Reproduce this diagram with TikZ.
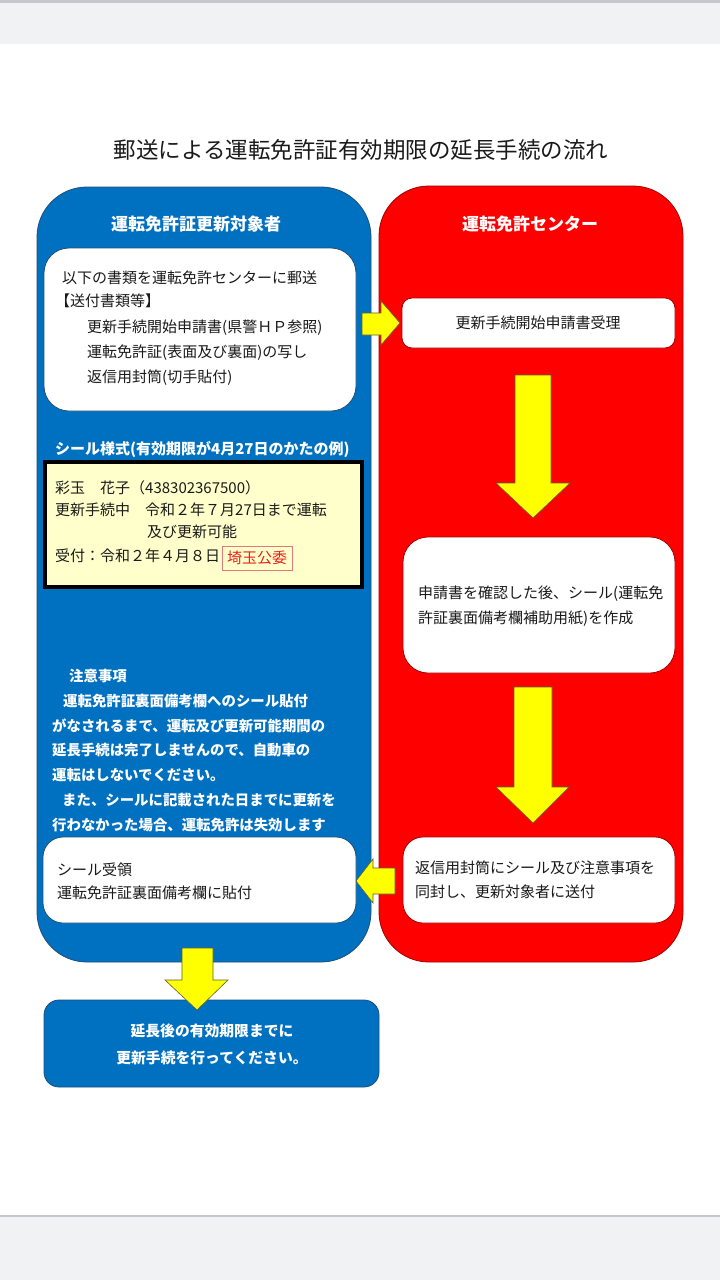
\documentclass[tikz,border=0pt]{standalone}
\usepackage{fontspec}
\newfontfamily\jp{Noto Sans CJK JP}
\definecolor{pbl}{HTML}{0070C0}
\definecolor{pblb}{HTML}{1F4E79}
\definecolor{prd}{HTML}{FF0000}
\definecolor{prdb}{HTML}{A00000}
\definecolor{ylw}{HTML}{FFFF00}
\definecolor{ylwb}{HTML}{5E5E30}
\definecolor{stk}{HTML}{FFFFCC}
\definecolor{stampc}{HTML}{E8201E}
\definecolor{stampb}{HTML}{E07A7A}
\definecolor{bandg}{HTML}{F1F2F4}
\definecolor{bandl}{HTML}{C6C7CA}
\definecolor{txt}{HTML}{1A1A1A}
\begin{document}
\begin{tikzpicture}[x=1pt,y=-1pt,
  panel/.style={rounded corners=50pt, line width=0.8pt, inner sep=0pt},
  wbox/.style={fill=white, line width=0.8pt, inner sep=0pt},
  yarrow/.style={fill=ylw, draw=ylwb, line width=0.6pt, line join=miter},
  tb/.style={inner sep=0pt, anchor=west, text height=13.2pt, text depth=1.8pt,
    font=\jp\fontsize{15pt}{15pt}\selectfont, text=txt},
  tbc/.style={tb, anchor=center},
  tw/.style={inner sep=0pt, anchor=west, text height=12.7pt, text depth=1.7pt,
    font=\jp\bfseries\fontsize{14.4pt}{14.4pt}\selectfont, text=white},
  twc/.style={tw, anchor=center},
  hd/.style={inner sep=0pt, text height=15pt, text depth=2pt,
    font=\jp\bfseries\fontsize{17pt}{17pt}\selectfont, text=white}]
\useasboundingbox (0,0) rectangle (720,1280);
% page background
\fill[white] (0,0) rectangle (720,1280);
\fill[bandg] (0,0) rectangle (720,44);
\fill[bandl] (0,0) rectangle (720,3);
\fill[bandg] (0,1216) rectangle (720,1280);
\fill[bandl] (0,1214.5) rectangle (720,1217);
% title
\node[inner sep=0pt, text height=19.8pt, text depth=2.7pt,
  font=\jp\fontsize{22.5pt}{22.5pt}\selectfont, text=txt] (title) at (361,150)
  {郵送による運転免許証有効期限の延長手続の流れ};
% panels
\node[panel, draw=pblb, fill=pbl, minimum width=334pt, minimum height=775pt] (bluep) at (204,574.5) {};
\node[panel, draw=prdb, fill=prd, minimum width=304pt, minimum height=776pt] (redp) at (531,574) {};
\node[hd] (bluehd) at (196,224) {運転免許証更新対象者};
\node[hd] (redhd) at (530,224) {運転免許センター};
% left box 1
\node[wbox, draw=pblb, rounded corners=25pt, minimum width=312pt, minimum height=163pt] (lb1) at (200,329.5) {};
\node[tb] (lb1a) at (62,278) {以下の書類を運転免許センターに郵送};
\node[tb] (lb1b) at (55,301) {【送付書類等】};
\node[tb] (lb1c) at (87,327) {更新手続開始申請書(県警ＨＰ参照)};
\node[tb] (lb1d) at (87,352) {運転免許証(表面及び裏面)の写し};
\node[tb] (lb1e) at (87,377) {返信用封筒(切手貼付)};
% sticker
\node[tw, font=\jp\bfseries\fontsize{15pt}{15pt}\selectfont] (stkhd) at (55,449) {シール様式(有効期限が4月27日のかたの例)};
\node[fill=stk, draw=black, line width=4pt, minimum width=317pt, minimum height=125pt, inner sep=0pt] (stkbox) at (203.5,524.5) {};
\node[tb] (stka) at (55,488) {彩玉　花子（438302367500）};
\node[tb] (stkb) at (55,510) {更新手続中　令和２年７月27日まで運転};
\node[tb] (stkc) at (147,532) {及び更新可能};
\node[tb] (stkd) at (55,556) {受付：令和２年４月８日};
\node[tbc, draw=stampb, line width=0.8pt, text=stampc, minimum width=70pt, minimum height=24pt] (stamp) at (257,558) {埼玉公委};
% notes
\node[tw] (n1) at (69,676) {注意事項};
\node[tw] (n2) at (63,701) {運転免許証裏面備考欄へのシール貼付};
\node[tw] (n3) at (52,726) {がなされるまで、運転及び更新可能期間の};
\node[tw] (n4) at (52,750) {延長手続は完了しませんので、自動車の};
\node[tw] (n5) at (52,775) {運転はしないでください。};
\node[tw] (n6) at (62,800) {また、シールに記載された日までに更新を};
\node[tw] (n7) at (52,825) {行わなかった場合、運転免許は失効します};
% left box 3
\node[wbox, draw=pblb, rounded corners=20pt, minimum width=313pt, minimum height=86pt] (lb3) at (199.5,880) {};
\node[tb] (lb3a) at (57,870) {シール受領};
\node[tb] (lb3b) at (57,893) {運転免許証裏面備考欄に貼付};
% right boxes
\node[wbox, draw=prdb, rounded corners=10pt, minimum width=273pt, minimum height=50pt] (rb1) at (538.5,323) {};
\node[tbc] (rb1a) at (538,323) {更新手続開始申請書受理};
\node[wbox, draw=prdb, rounded corners=25pt, minimum width=272pt, minimum height=136pt] (rb2) at (539,605) {};
\node[tb] (rb2a) at (418,593) {申請書を確認した後、シール(運転免};
\node[tb] (rb2b) at (418,618) {許証裏面備考欄補助用紙)を作成};
\node[wbox, draw=prdb, rounded corners=20pt, minimum width=272pt, minimum height=86pt] (rb3) at (539,880) {};
\node[tb] (rb3a) at (415,868) {返信用封筒にシール及び注意事項を};
\node[tb] (rb3b) at (415,892) {同封し、更新対象者に送付};
% final box
\node[fill=pbl, draw=pblb, line width=0.8pt, rounded corners=15pt, minimum width=335pt, minimum height=87pt, inner sep=0pt] (fin) at (211.5,1043.5) {};
\node[twc, font=\jp\bfseries\fontsize{14.8pt}{14.8pt}\selectfont] (fina) at (212,1031) {延長後の有効期限までに};
\node[twc, font=\jp\bfseries\fontsize{14.8pt}{14.8pt}\selectfont] (finb) at (212,1058) {更新手続を行ってください。};
% block arrows
\draw[yarrow] (362,313) -- (381,313) -- (381,301) -- (400,323) -- (381,345) -- (381,335) -- (362,335) -- cycle;
\draw[yarrow] (515,375) -- (551,375) -- (551,483) -- (570,483) -- (533,518) -- (496,483) -- (515,483) -- cycle;
\draw[yarrow] (514,687) -- (552,687) -- (552,787) -- (569,787) -- (533,823) -- (496,787) -- (514,787) -- cycle;
\draw[yarrow] (395,868) -- (373,868) -- (373,859) -- (356,881) -- (373,903) -- (373,894) -- (395,894) -- cycle;
\draw[yarrow] (182,948) -- (213,948) -- (213,980) -- (228,980) -- (197,1010) -- (165,980) -- (182,980) -- cycle;
\end{tikzpicture}
\end{document}
